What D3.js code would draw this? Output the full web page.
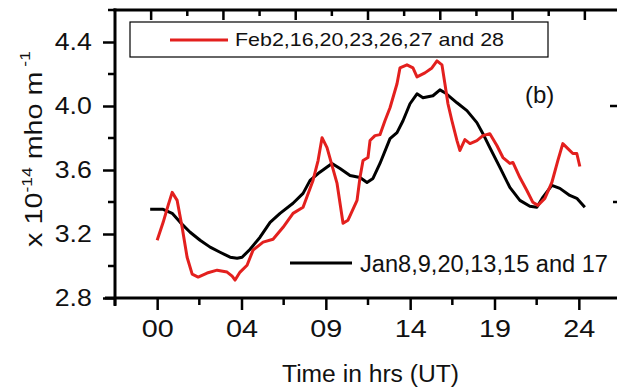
<!DOCTYPE html>
<html>
<head>
<meta charset="utf-8">
<script src="https://cdn.jsdelivr.net/npm/d3@7"></script>
<style>
  html, body { margin: 0; padding: 0; background: #fff; }
  svg { display: block; font-family: "Liberation Sans", Arial, sans-serif; }
</style>
</head>
<body>
<svg id="chart" width="617" height="387"></svg>
<script>
// Tick labels of the time axis (evenly spaced slots)
const timeLabels = ["00", "04", "09", "14", "19", "24"];
const yTicks = [2.8, 3.2, 3.6, 4.0, 4.4];

// February quiet days: [slot position, conductivity ×10^-14]
const febSeries = [
  [0.000, 3.161], [0.071, 3.273], [0.130, 3.379], [0.178, 3.460], [0.237, 3.410],
  [0.296, 3.242], [0.355, 3.055], [0.415, 2.949], [0.486, 2.931], [0.592, 2.956],
  [0.711, 2.974], [0.829, 2.962], [0.889, 2.937], [0.924, 2.912], [0.983, 2.962],
  [1.066, 3.005], [1.137, 3.099], [1.256, 3.149], [1.374, 3.167], [1.493, 3.242],
  [1.611, 3.329], [1.730, 3.367], [1.848, 3.535], [1.908, 3.659], [1.955, 3.802],
  [2.014, 3.740], [2.133, 3.516], [2.204, 3.267], [2.263, 3.286], [2.370, 3.410],
  [2.405, 3.553], [2.441, 3.659], [2.500, 3.678], [2.524, 3.784], [2.583, 3.815],
  [2.642, 3.821], [2.701, 3.908], [2.761, 3.989], [2.844, 4.139], [2.879, 4.238],
  [2.962, 4.257], [3.033, 4.238], [3.081, 4.182], [3.175, 4.207], [3.258, 4.238],
  [3.318, 4.282], [3.377, 4.257], [3.412, 4.139], [3.448, 4.014], [3.495, 3.908],
  [3.555, 3.784], [3.590, 3.722], [3.649, 3.790], [3.709, 3.765], [3.791, 3.784],
  [3.863, 3.815], [3.945, 3.827], [4.028, 3.753], [4.100, 3.678], [4.182, 3.641],
  [4.218, 3.647], [4.301, 3.553], [4.384, 3.472], [4.455, 3.398], [4.514, 3.379],
  [4.597, 3.423], [4.680, 3.522], [4.751, 3.659], [4.810, 3.765], [4.870, 3.734],
  [4.929, 3.703], [4.976, 3.703], [5.012, 3.622]
];

// January quiet days
const janSeries = [
  [-0.083, 3.354], [0.071, 3.354], [0.178, 3.329], [0.273, 3.273], [0.391, 3.211],
  [0.509, 3.161], [0.628, 3.118], [0.746, 3.086], [0.865, 3.055], [0.948, 3.049],
  [1.007, 3.055], [1.102, 3.105], [1.220, 3.180], [1.339, 3.273], [1.457, 3.329],
  [1.611, 3.392], [1.730, 3.454], [1.813, 3.535], [1.908, 3.578], [2.073, 3.641],
  [2.168, 3.609], [2.287, 3.566], [2.405, 3.553], [2.488, 3.522], [2.559, 3.547],
  [2.642, 3.641], [2.761, 3.796], [2.844, 3.834], [2.915, 3.908], [2.998, 4.014],
  [3.081, 4.076], [3.152, 4.052], [3.270, 4.064], [3.353, 4.101], [3.412, 4.083],
  [3.555, 4.020], [3.673, 3.971], [3.791, 3.896], [3.863, 3.827], [3.945, 3.740],
  [4.064, 3.616], [4.182, 3.491], [4.301, 3.410], [4.419, 3.373], [4.502, 3.367],
  [4.573, 3.429], [4.680, 3.504], [4.775, 3.485], [4.893, 3.441], [4.976, 3.423],
  [5.071, 3.367]
];

const febLabel = "Feb2,16,20,23,26,27 and 28";
const janLabel = "Jan8,9,20,13,15 and 17";

const svg = d3.select("#chart");
const plotL = 115, plotR = 621, plotT = 10, plotB = 298;
const ink = "#111";

const x = d3.scaleLinear().domain([-0.5, 5.5]).range([plotL, plotR]);
const xTop = d3.scaleLinear().domain([0, 14]).range([plotL, plotR]);
const y = d3.scaleLinear().domain([2.8, 4.6]).range([plotB, plotT]);

// Frame lines
const axisW = 3;
svg.append("line").attr("x1", plotL - 10).attr("x2", 617).attr("y1", plotB).attr("y2", plotB)
  .attr("stroke", "#000").attr("stroke-width", axisW);
svg.append("line").attr("x1", plotL).attr("x2", plotL).attr("y1", plotT - 1.5).attr("y2", plotB + 8)
  .attr("stroke", "#000").attr("stroke-width", axisW);
svg.append("line").attr("x1", plotL - 1.5).attr("x2", 617).attr("y1", plotT).attr("y2", plotT)
  .attr("stroke", "#000").attr("stroke-width", axisW);

// Bottom axis: labelled slots plus half-slot minor ticks
const bottomAxis = d3.axisBottom(x)
  .tickValues(d3.range(timeLabels.length))
  .tickFormat((d, i) => timeLabels[i])
  .tickSize(12).tickPadding(11);
const gB = svg.append("g").attr("transform", `translate(0,${plotB})`).call(bottomAxis);
gB.select(".domain").remove();
gB.selectAll(".tick line").attr("stroke-width", 2.5);
gB.selectAll(".tick text").attr("font-size", 23).attr("fill", ink)
  .attr("font-family", "'Liberation Sans', Arial, sans-serif")
  .attr("transform", "scale(1.25,1)");
svg.append("g").selectAll("line")
  .data(d3.range(-0.5, 5, 1))
  .join("line")
  .attr("x1", d => x(d)).attr("x2", d => x(d))
  .attr("y1", plotB).attr("y2", plotB + 7)
  .attr("stroke", "#000").attr("stroke-width", 2.5);

// Left axis
const leftAxis = d3.axisLeft(y).tickValues(yTicks).tickFormat(d3.format(".1f"))
  .tickSize(12).tickPadding(8);
const gL = svg.append("g").attr("transform", `translate(${plotL},0)`).call(leftAxis);
gL.select(".domain").remove();
gL.selectAll(".tick line").attr("stroke-width", 2.5);
gL.selectAll(".tick text").attr("font-size", 23).attr("fill", ink)
  .attr("font-family", "'Liberation Sans', Arial, sans-serif")
  .attr("transform", "scale(1.16,1)");
svg.append("g").selectAll("line")
  .data([3.0, 3.4, 3.8, 4.2, 4.6])
  .join("line")
  .attr("x1", plotL - 7).attr("x2", plotL)
  .attr("y1", d => y(d)).attr("y2", d => y(d))
  .attr("stroke", "#000").attr("stroke-width", 2.5);

// Top ticks
svg.append("g").selectAll("line")
  .data(d3.range(1, 14))
  .join("line")
  .attr("x1", d => xTop(d)).attr("x2", d => xTop(d))
  .attr("y1", plotT).attr("y2", d => plotT + (d % 2 ? 10 : 6))
  .attr("stroke", "#000").attr("stroke-width", 2.5);

// Right-edge ticks
svg.append("g").selectAll("line")
  .data([4.0, 3.4])
  .join("line")
  .attr("x1", d => d === 4.0 ? 610 : 613).attr("x2", 617)
  .attr("y1", d => y(d)).attr("y2", d => y(d))
  .attr("stroke", "#000").attr("stroke-width", 2.5);

// Series lines
const line = d3.line().x(d => x(d[0])).y(d => y(d[1]));
svg.append("path").datum(janSeries).attr("d", line)
  .attr("fill", "none").attr("stroke", "#000").attr("stroke-width", 3)
  .attr("stroke-linejoin", "round");
svg.append("path").datum(febSeries).attr("d", line)
  .attr("fill", "none").attr("stroke", "#e3201e").attr("stroke-width", 3)
  .attr("stroke-linejoin", "round");

// Legend for February (boxed)
svg.append("rect").attr("x", 130).attr("y", 22).attr("width", 418).attr("height", 35)
  .attr("fill", "#fff").attr("stroke", "#000").attr("stroke-width", 1.2);
svg.append("line").attr("x1", 170).attr("x2", 228).attr("y1", 40).attr("y2", 40)
  .attr("stroke", "#e3201e").attr("stroke-width", 3);
svg.append("text").attr("x", 235).attr("y", 45.5).attr("font-size", 19)
  .attr("textLength", 269).attr("lengthAdjust", "spacingAndGlyphs")
  .attr("fill", ink).text(febLabel);

// Legend for January
svg.append("line").attr("x1", 290).attr("x2", 352).attr("y1", 263).attr("y2", 263)
  .attr("stroke", "#000").attr("stroke-width", 3);
svg.append("text").attr("x", 360).attr("y", 272).attr("font-size", 23)
  .attr("textLength", 248).attr("lengthAdjust", "spacingAndGlyphs")
  .attr("fill", ink).text(janLabel);

// Panel tag
svg.append("text").attr("x", 525).attr("y", 103).attr("font-size", 24)
  .attr("fill", ink).text("(b)");

// Axis titles
svg.append("text").attr("x", 282).attr("y", 382).attr("font-size", 23)
  .attr("textLength", 177).attr("lengthAdjust", "spacingAndGlyphs")
  .attr("fill", ink).text("Time in hrs (UT)");

const yt = svg.append("text")
  .attr("transform", "translate(42,149) rotate(-90) scale(1.25,1)")
  .attr("text-anchor", "middle").attr("font-size", 23).attr("fill", ink);
yt.append("tspan").text("x 10");
yt.append("tspan").attr("dy", -10).attr("font-size", 14).text("-14");
yt.append("tspan").attr("dy", 10).text(" mho m");
yt.append("tspan").attr("dy", -12).attr("font-size", 14).text(" -1");
</script>
</body>
</html>
